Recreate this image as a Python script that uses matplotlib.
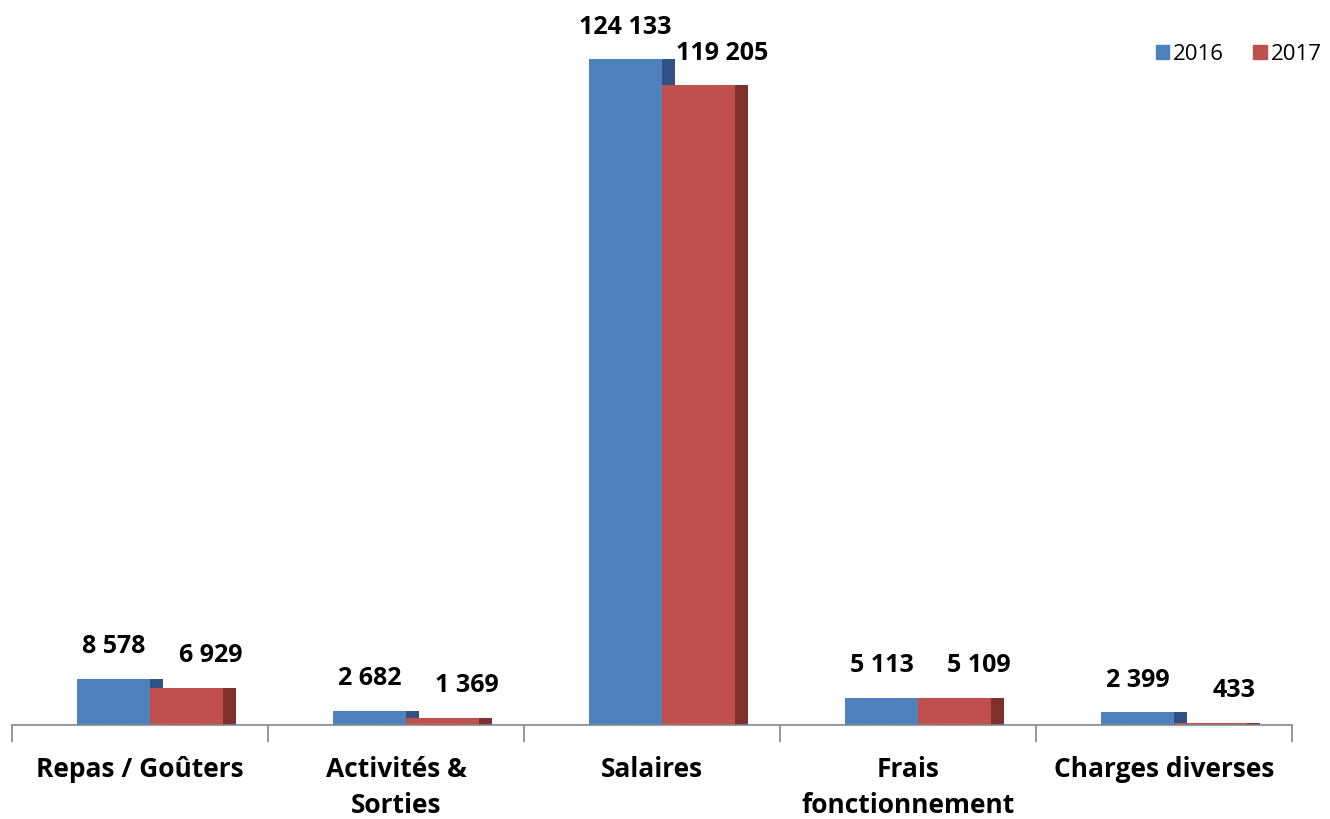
import numpy as np
import matplotlib.pyplot as plt
from matplotlib.patches import Rectangle

categories = ["Repas / Goûters", "Activités &\nSorties", "Salaires",
              "Frais\nfonctionnement", "Charges diverses"]
values_2016 = [8578, 2682, 124133, 5113, 2399]
values_2017 = [6929, 1369, 119205, 5109, 433]
years = ["2016", "2017"]

blue, blue_side = "#4F81BD", "#2F5282"
red, red_side = "#C0504D", "#7E302E"
font = "Open Sans"


def fmt(v):
    return f"{v:,}".replace(",", " ")


fig = plt.figure(figsize=(13.3, 8.19), dpi=100)
ax = fig.add_axes([12 / 1330, 94 / 819, 1280 / 1330, 725 / 819])

x = np.arange(len(categories))
w = 73 / 256      # front face width
d = 13 / 256      # side depth
off = -63 / 256   # left edge of blue front relative to category centre

for xi, v16, v17 in zip(x, values_2016, values_2017):
    x0 = xi + off
    # blue side, blue front, then red on top
    ax.add_patch(Rectangle((x0 + w, 0), d, v16, color=blue_side, lw=0))
    ax.add_patch(Rectangle((x0, 0), w, v16, color=blue, lw=0))
    ax.add_patch(Rectangle((x0 + 2 * w, 0), d, v17, color=red_side, lw=0))
    ax.add_patch(Rectangle((x0 + w, 0), w, v17, color=red, lw=0))
    ax.annotate(fmt(v16), (x0 + w / 2, v16), xytext=(0, 32),
                textcoords="offset pixels", ha="center", va="center",
                fontsize=18, fontweight="bold", family=font)
    ax.annotate(fmt(v17), (x0 + 1.5 * w, v17), xytext=(24, 32),
                textcoords="offset pixels", ha="center", va="center",
                fontsize=18, fontweight="bold", family=font)

ax.set_xlim(-0.5, len(categories) - 0.5)
ax.set_ylim(0, 124133 * 725 / 666)

for s in ["top", "right", "left"]:
    ax.spines[s].set_visible(False)
ax.spines["bottom"].set_color("#868686")
ax.spines["bottom"].set_linewidth(1.2)
ax.set_yticks([])

ax.set_xticks(x)
ax.set_xticklabels(categories, fontsize=19, fontweight="bold", family=font,
                   linespacing=1.45)
ax.tick_params(axis="x", which="major", length=0, pad=22)
ax.set_xticks(np.arange(len(categories) + 1) - 0.5, minor=True)
ax.tick_params(axis="x", which="minor", length=12, width=1.2, color="#868686")

# legend
handles = [Rectangle((0, 0), 1, 1, color=blue), Rectangle((0, 0), 1, 1, color=red)]
fig.legend(handles, years, loc="upper right", bbox_to_anchor=(1342 / 1330, 1 - 24 / 819),
           ncol=2, frameon=False, prop={"family": font, "size": 16},
           handlelength=0.6, handleheight=0.6, handletextpad=0.2, columnspacing=1.3)

fig.savefig("out.png", dpi=100)
